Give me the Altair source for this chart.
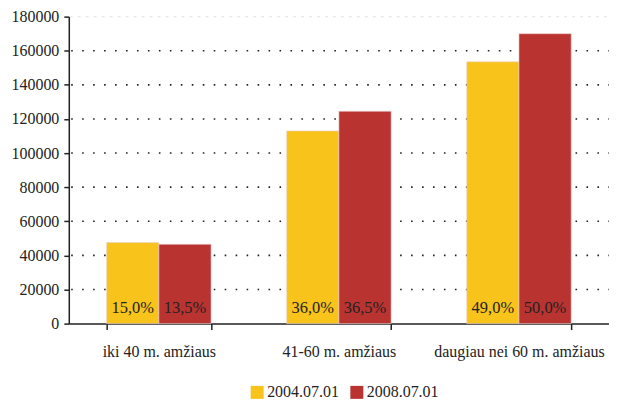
import altair as alt
import pandas as pd

categories = ["iki 40 m. amžiaus", "41-60 m. amžiaus", "daugiau nei 60 m. amžiaus"]
series = ["2004.07.01", "2008.07.01"]
values_2004 = [47500, 113000, 153500]
values_2008 = [46500, 124500, 170000]
labels_2004 = ["15,0%", "36,0%", "49,0%"]
labels_2008 = ["13,5%", "36,5%", "50,0%"]
colors = ["#F8C31B", "#B93331"]
y_ticks = [0, 20000, 40000, 60000, 80000, 100000, 120000, 140000, 160000, 180000]
grid_dark = [20000, 40000, 60000, 80000, 100000, 120000, 140000, 160000]
grid_faint = [180000]

rows = []
for i, c in enumerate(categories):
    rows.append({"cat": c, "series": series[0], "value": values_2004[i], "label": labels_2004[i]})
    rows.append({"cat": c, "series": series[1], "value": values_2008[i], "label": labels_2008[i]})
df = pd.DataFrame(rows)
df_grid = pd.DataFrame({"g": grid_dark})
df_faint = pd.DataFrame({"g": grid_faint})

FONT = "Liberation Serif"

x_axis = alt.Axis(
    labelAngle=0,
    labelPadding=14,
    tickSize=6,
    tickBand="extent",
    grid=False,
)
y_axis = alt.Axis(
    values=y_ticks,
    format="d",
    labelPadding=5,
    labelFlush=False,
    tickSize=5,
    grid=False,
)
x_scale = alt.Scale(paddingInner=0.42, paddingOuter=0.21)
y_scale = alt.Scale(domain=[0, 180000], nice=False)

grid = alt.Chart(df_grid).mark_rule(
    color="#222", strokeWidth=1.6, strokeDash=[1.6, 9.4], strokeDashOffset=-10
).encode(y=alt.Y("g:Q", scale=y_scale, title=None, axis=y_axis))

faint = alt.Chart(df_faint).mark_rule(
    color="#e8e8e8", strokeWidth=1.2, strokeDash=[3, 5], strokeDashOffset=-10
).encode(y=alt.Y("g:Q", scale=y_scale, title=None, axis=y_axis))

bars = alt.Chart(df).mark_bar(stroke="#f0d0d0", strokeWidth=0.6).encode(
    x=alt.X("cat:N", sort=categories, title=None, scale=x_scale, axis=x_axis),
    xOffset=alt.XOffset("series:N", sort=series),
    y=alt.Y("value:Q", scale=y_scale, title=None, axis=y_axis),
    color=alt.Color(
        "series:N",
        sort=series,
        scale=alt.Scale(domain=series, range=colors),
        legend=alt.Legend(
            title=None,
            orient="none",
            legendX=181,
            legendY=369,
            direction="horizontal",
            symbolType="square",
            symbolSize=170,
            symbolStrokeWidth=0,
            columnPadding=10,
            labelOffset=2,
        ),
    ),
)

text = alt.Chart(df).mark_text(
    baseline="bottom", dy=-8, fontSize=16.5, font=FONT, color="#222"
).encode(
    x=alt.X("cat:N", sort=categories, title=None, scale=x_scale, axis=x_axis),
    xOffset=alt.XOffset("series:N", sort=series),
    y=alt.Y(datum=0, scale=y_scale, title=None, axis=y_axis),
    text="label:N",
)

chart = (
    alt.layer(faint, grid, bars, text)
    .properties(
        width=542,
        height=308,
        autosize=alt.AutoSizeParams(type="none"),
        padding={"left": 61, "top": 8, "right": 0, "bottom": 76},
        background="white",
    )
    .configure_view(stroke=None)
    .configure_axis(
        labelFont=FONT,
        labelFontSize=16,
        labelColor="#222",
        labelOverlap=False,
        tickColor="#222",
        tickWidth=1.5,
        domainColor="#222",
        domainWidth=1.5,
    )
    .configure_legend(labelFont=FONT, labelFontSize=16, labelColor="#222")
)

chart.save("out.html", embed_options={"renderer": "svg", "actions": False})
